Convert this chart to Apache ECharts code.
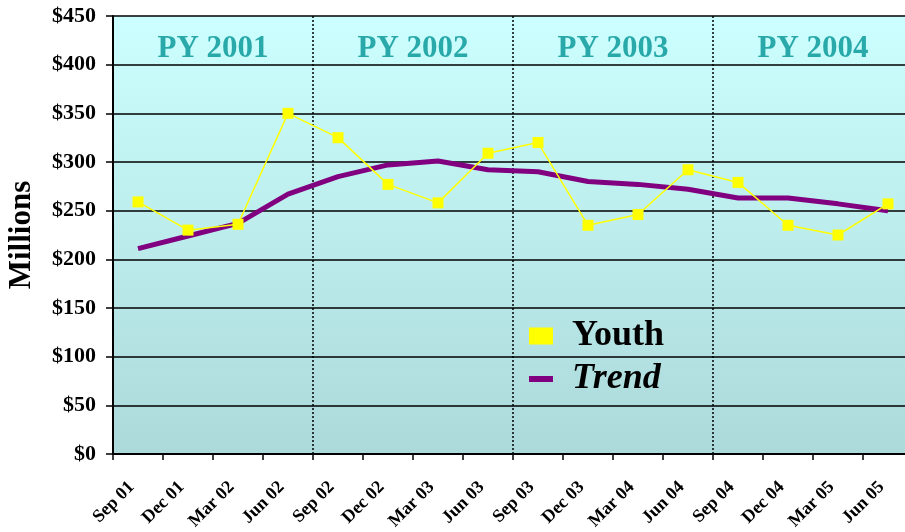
<!DOCTYPE html>
<html>
<head>
<meta charset="utf-8">
<script src="https://cdn.jsdelivr.net/npm/echarts@6/dist/echarts.min.js"></script>
<style>
  html, body { margin: 0; padding: 0; background: #fff; }
  #chart { width: 905px; height: 532px; }
</style>
</head>
<body>
<div id="chart"></div>
<script>
  // quarters on the x axis
  const quarters = ["Sep 01", "Dec 01", "Mar 02", "Jun 02", "Sep 02", "Dec 02", "Mar 03", "Jun 03",
    "Sep 03", "Dec 03", "Mar 04", "Jun 04", "Sep 04", "Dec 04", "Mar 05", "Jun 05"];
  // Youth spending, $ millions
  const youth = [259, 230, 236, 350, 325, 277, 258, 309, 320, 235, 246, 292, 279, 235, 225, 257];
  // trend line, $ millions
  const trend = [211, 224, 237, 267, 285, 297, 301, 292, 290, 280, 277, 272, 263, 263, 257, 250];
  // program year headings, centred on each block of 4 quarters
  const periodNames = ["PY 2001", "PY 2002", "PY 2003", "PY 2004"];
  const periodCentres = [2, 6, 10, 14];
  const periodLevel = 416;

  const FONT = "'Liberation Serif', 'Times New Roman', serif";
  const COLORS = {
    youth: "#ffff00",
    trend: "#800080",
    period: "#009494",
  };

  const chart = echarts.init(document.getElementById("chart"));

  const option = {
    animation: false,
    textStyle: { fontFamily: FONT },
    grid: {
      left: 113,
      top: 16,
      width: 800,
      height: 438,
      outerBoundsMode: "none",
      containLabel: false,
      show: true,
      borderWidth: 0,
      backgroundColor: {
        type: "linear", x: 0, y: 0, x2: 0, y2: 1,
        colorStops: [
          { offset: 0, color: "#ccffff" },
          { offset: 1, color: "#acd9d9" },
        ],
      },
    },
    legend: [
      {
        data: [{ name: "Youth", icon: "rect" }],
        left: 529,
        top: 318,
        padding: 0,
        itemWidth: 24,
        itemHeight: 17,
        textStyle: { fontFamily: FONT, fontSize: 36, fontWeight: "bold", color: "#000", padding: [0, 0, 0, 14] },
      },
      {
        data: [{ name: "Trend", icon: "rect" }],
        left: 529,
        top: 361,
        padding: 0,
        itemWidth: 24,
        itemHeight: 6,
        textStyle: { fontFamily: FONT, fontSize: 36, fontWeight: "bold", fontStyle: "italic", color: "#000", padding: [0, 0, 0, 14] },
      },
    ],
    xAxis: [
      {
        type: "category",
        data: quarters,
        boundaryGap: true,
        axisLine: { lineStyle: { color: "#000", width: 2 } },
        axisTick: { show: true, length: 6, lineStyle: { color: "#000", width: 1.5 } },
        axisLabel: {
          interval: 0,
          rotate: 45,
          margin: 24,
          padding: [0, 9, 0, 0],
          color: "#000",
          fontFamily: FONT,
          fontSize: 18,
          fontWeight: "bold",
        },
        splitLine: {
          show: true,
          interval: (index) => index > 0 && index % 4 === 0,
          lineStyle: { color: "#000", width: 1.5, type: [2, 2] },
        },
      },
      {
        type: "value",
        min: 0,
        max: 16,
        show: false,
      },
    ],
    yAxis: {
      type: "value",
      min: 0,
      max: 450,
      interval: 50,
      name: "Millions",
      nameLocation: "middle",
      nameGap: 76,
      nameTextStyle: { fontFamily: FONT, fontSize: 31, fontWeight: "bold", color: "#000" },
      axisLine: { show: true, lineStyle: { color: "#000", width: 2 } },
      axisTick: { show: true, length: 7, lineStyle: { color: "#000", width: 1.5 } },
      axisLabel: {
        margin: 17,
        color: "#000",
        fontFamily: FONT,
        fontSize: 22,
        fontWeight: "bold",
        formatter: (v) => "$" + v,
      },
      splitLine: { show: true, lineStyle: { color: "#000", width: 1.5 } },
    },
    series: [
      {
        name: "Trend",
        type: "line",
        data: trend,
        symbol: "none",
        lineStyle: { color: COLORS.trend, width: 5 },
        itemStyle: { color: COLORS.trend },
        z: 3,
      },
      {
        name: "Youth",
        type: "line",
        data: youth,
        symbol: "rect",
        symbolSize: 11,
        lineStyle: { color: COLORS.youth, width: 1.5 },
        itemStyle: { color: COLORS.youth },
        z: 4,
      },
      {
        name: "periods",
        type: "scatter",
        xAxisIndex: 1,
        symbolSize: 0,
        silent: true,
        data: periodCentres.map((c, i) => ({ value: [c, periodLevel], name: periodNames[i] })),
        label: {
          show: true,
          position: "inside",
          formatter: (p) => p.name,
          fontFamily: FONT,
          fontSize: 31,
          fontWeight: "bold",
          color: COLORS.period,
        },
      },
    ],
  };

  chart.setOption(option);
</script>
</body>
</html>
